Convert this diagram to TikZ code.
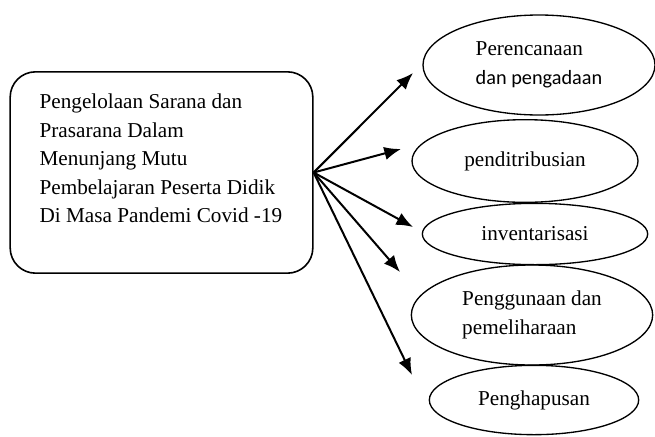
\documentclass[tikz,border=0pt]{standalone}
\usepackage{fontspec}
\setmainfont{Liberation Serif}
\newfontfamily\calibri{Carlito}
\usetikzlibrary{arrows.meta, shapes.geometric, positioning}
\tikzset{>={Latex[length=12.5pt,width=10pt]}}
\tikzset{
	mainbox/.style={draw, line width=1.2pt, rounded corners=19pt, minimum width=227pt, minimum height=151pt},
	topic/.style={draw, ellipse, line width=1pt, inner sep=0pt, align=left, font=\fontsize{15.9}{21.4}\selectfont},
	branch/.style={->, line width=1.5pt},
}

\begin{document}
\begin{tikzpicture}[x=0.75pt, y=-0.75pt]
\useasboundingbox (0,0) rectangle (655,436);
\node[mainbox] (box) at (161.5,172.5) {};
\node[below right=17pt and 22.5pt of box.north west, inner sep=0pt, align=left, font=\fontsize{15.9}{21.4}\selectfont] (boxtext)
	{Pengelolaan Sarana dan\\Prasarana Dalam\\Menunjang Mutu\\Pembelajaran Peserta Didik\\Di Masa Pandemi Covid -19};

\node[topic, minimum width=174pt, minimum height=75pt] (plan) at (539,65)
	{\fontsize{15.9}{19}\selectfont Perencanaan\\{\calibri\fontsize{15.2}{19}\selectfont dan pengadaan}};
\node[topic, minimum width=169.5pt, minimum height=62pt] (distrib) at (525,161) {penditribusian};
\node[topic, minimum width=169pt, minimum height=46pt] (invent) at (535,234) {inventarisasi};
\node[topic, minimum width=181pt, minimum height=75pt] (usage) at (532,315) {Penggunaan dan\\pemeliharaan};
\node[topic, minimum width=157pt, minimum height=52pt] (delete) at (534,400) {Penghapusan};

\coordinate (t1) at (413,73);
\coordinate (t2) at (401,149);
\coordinate (t3) at (413,227);
\coordinate (t4) at (400,272);
\coordinate (t5) at (412,375);

\draw[branch] (box.east) -- (t1);
\draw[branch] (box.east) -- (t2);
\draw[branch] (box.east) -- (t3);
\draw[branch] (box.east) -- (t4);
\draw[branch] (box.east) -- (t5);
\end{tikzpicture}
\end{document}
